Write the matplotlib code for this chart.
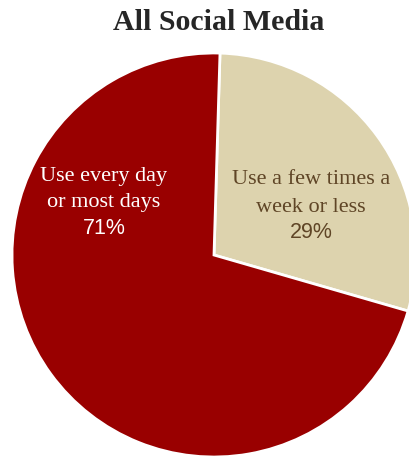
import matplotlib

matplotlib.use("Agg")
import matplotlib.pyplot as plt

# usage split for all social media
categories = ["Use a few times a\nweek or less", "Use every day\nor most days"]
shares = [29, 71]
slice_colors = ["#ddd3ae", "#990000"]
label_colors = ["#5f4526", "#ffffff"]
title = "All Social Media"

W, H = 409, 458
fig = plt.figure(figsize=(W / 100, H / 100), dpi=100)
ax = fig.add_axes([0, 0, 1, 1])

cx, cy, r = 214, H - 255, 202
ax.pie(
    shares,
    colors=slice_colors,
    startangle=88.3,
    counterclock=False,
    center=(cx, cy),
    radius=r,
    wedgeprops=dict(edgecolor="white", linewidth=2.0),
)
ax.set_aspect("equal")
ax.set_xlim(0, W)
ax.set_ylim(0, H)
ax.axis("off")

ax.text(218.5, H - 23, title, ha="center", va="center",
        family="Liberation Serif", fontweight="bold", fontsize=21.5, color="#262626")

# label anchor per slice: x centre and y of first line (pixels from top)
label_x = [311, 104]
label_top = [180, 176]
step = 27
for name, pct, lx, ly, col in zip(categories, shares, label_x, label_top, label_colors):
    lines = name.split("\n")
    for i, line in enumerate(lines):
        ax.text(lx, H - (ly + i * step), line, ha="center", va="center",
                family="Liberation Serif", fontsize=16, color=col)
    ax.text(lx, H - (ly + len(lines) * step) + 1, f"{pct}%", ha="center", va="center",
            family="Liberation Sans", fontsize=15.5, color=col)

fig.savefig("out.png", dpi=100)
